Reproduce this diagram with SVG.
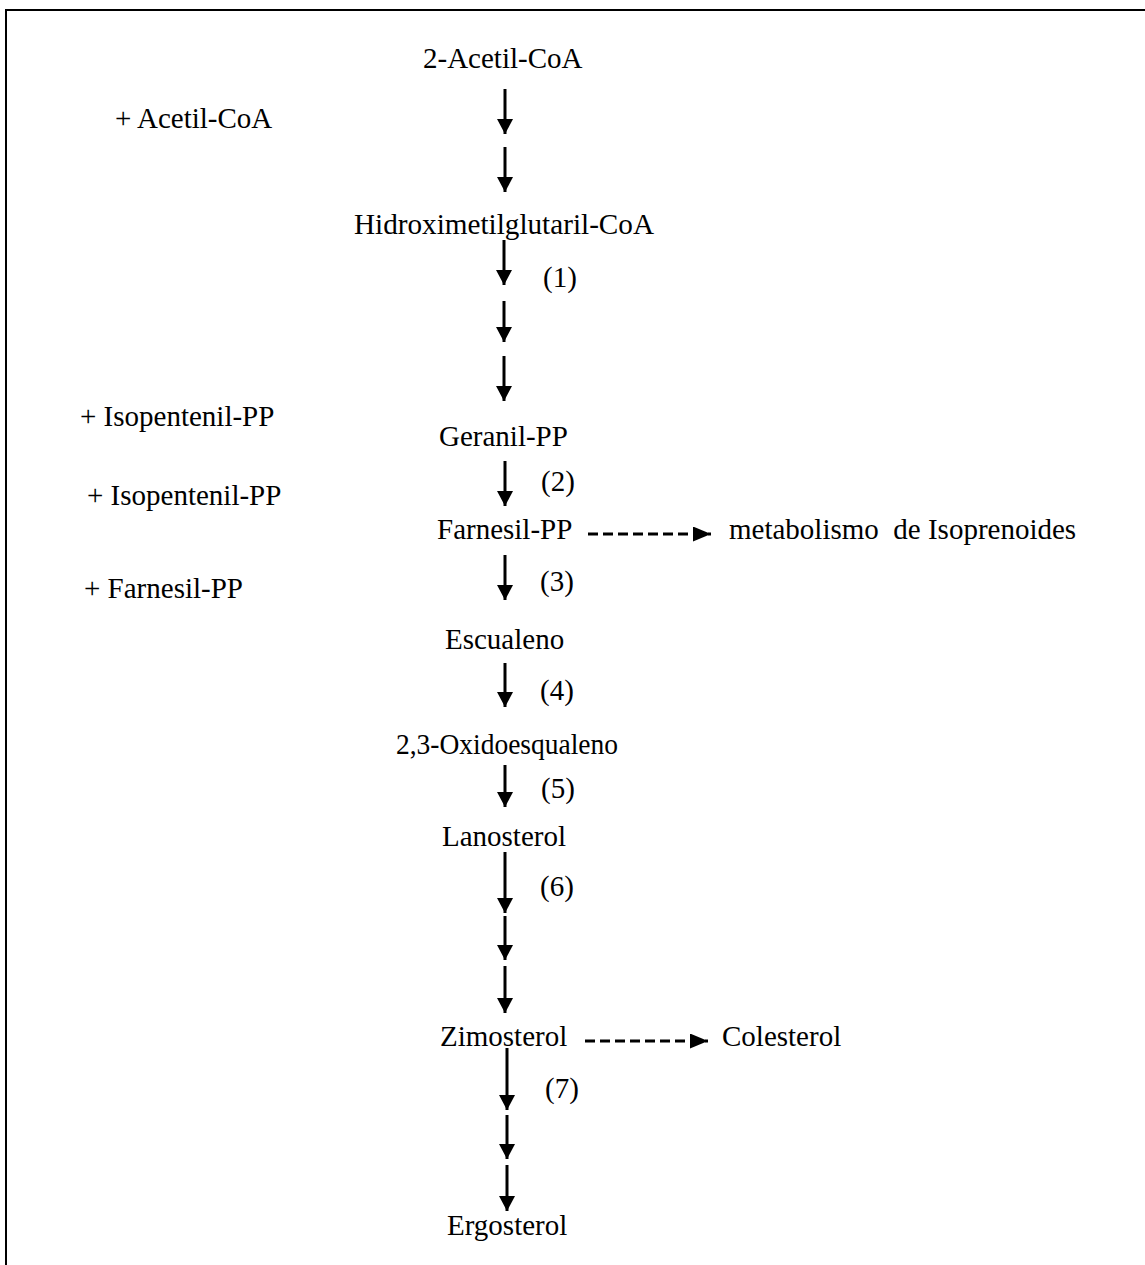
<svg xmlns="http://www.w3.org/2000/svg" width="1145" height="1265" viewBox="0 0 1145 1265">
<style>
text{font-family:"Liberation Serif","Times New Roman",serif;font-size:29px;fill:#000}
.a{stroke:#000;stroke-width:3;fill:none;marker-end:url(#h)}
.d{stroke:#000;stroke-width:3;fill:none;stroke-dasharray:10 5;marker-end:url(#hd)}
.f{stroke:#000;stroke-width:2;fill:none}
</style>
<defs>
<marker id="h" markerUnits="userSpaceOnUse" viewBox="0 0 15 16" refX="15" refY="8" markerWidth="15" markerHeight="16" orient="auto"><path d="M0,0L15,8L0,16Z" fill="#000"/></marker>
<marker id="hd" markerUnits="userSpaceOnUse" viewBox="0 0 18 15" refX="18" refY="7.5" markerWidth="18" markerHeight="15" orient="auto"><path d="M0,0L18,7.5L0,15Z" fill="#000"/></marker>
</defs>
<rect width="1145" height="1265" fill="#fff"/>
<path class="f" d="M6,1265V10H1145"/>
<g id="connectors">
<line class="a" x1="505" y1="89" x2="505" y2="134"/>
<line class="a" x1="505" y1="147" x2="505" y2="192"/>
<line class="a" x1="504" y1="240" x2="504" y2="285"/>
<line class="a" x1="504" y1="301" x2="504" y2="342"/>
<line class="a" x1="504" y1="356" x2="504" y2="401"/>
<line class="a" x1="505" y1="461" x2="505" y2="506"/>
<line class="a" x1="505" y1="555" x2="505" y2="600"/>
<line class="a" x1="505" y1="663" x2="505" y2="707"/>
<line class="a" x1="505" y1="765" x2="505" y2="807"/>
<line class="a" x1="505" y1="852" x2="505" y2="913"/>
<line class="a" x1="505" y1="916" x2="505" y2="960"/>
<line class="a" x1="505" y1="966" x2="505" y2="1013"/>
<line class="a" x1="507" y1="1048" x2="507" y2="1110"/>
<line class="a" x1="507" y1="1115" x2="507" y2="1159"/>
<line class="a" x1="507" y1="1165" x2="507" y2="1211"/>
<line class="d" x1="588" y1="534" x2="711" y2="534"/>
<line class="d" x1="585" y1="1041" x2="708" y2="1041"/>
</g>
<g id="n-acetilcoa2"><text x="423" y="68">2-Acetil-CoA</text></g>
<g id="n-plus-acetilcoa"><text x="115" y="128">+ Acetil-CoA</text></g>
<g id="n-hmgcoa"><text x="354" y="234" textLength="300" lengthAdjust="spacingAndGlyphs">Hidroximetilglutaril-CoA</text></g>
<g id="n-step1"><text x="543" y="287">(1)</text></g>
<g id="n-plus-ipp1"><text x="80" y="426">+ Isopentenil-PP</text></g>
<g id="n-geranil"><text x="439" y="446">Geranil-PP</text></g>
<g id="n-step2"><text x="541" y="491">(2)</text></g>
<g id="n-plus-ipp2"><text x="87" y="505">+ Isopentenil-PP</text></g>
<g id="n-farnesil"><text x="437" y="539">Farnesil-PP</text></g>
<g id="n-isoprenoides"><text x="729" y="539" xml:space="preserve">metabolismo  de Isoprenoides</text></g>
<g id="n-plus-farnesil"><text x="84" y="598">+ Farnesil-PP</text></g>
<g id="n-step3"><text x="540" y="591">(3)</text></g>
<g id="n-escualeno"><text x="445" y="649">Escualeno</text></g>
<g id="n-step4"><text x="540" y="700">(4)</text></g>
<g id="n-oxido"><text x="396" y="754" textLength="222" lengthAdjust="spacingAndGlyphs">2,3-Oxidoesqualeno</text></g>
<g id="n-step5"><text x="541" y="798">(5)</text></g>
<g id="n-lanosterol"><text x="442" y="846">Lanosterol</text></g>
<g id="n-step6"><text x="540" y="896">(6)</text></g>
<g id="n-zimosterol"><text x="440" y="1046">Zimosterol</text></g>
<g id="n-colesterol"><text x="722" y="1046">Colesterol</text></g>
<g id="n-step7"><text x="545" y="1098">(7)</text></g>
<g id="n-ergosterol"><text x="447" y="1235">Ergosterol</text></g>
</svg>
